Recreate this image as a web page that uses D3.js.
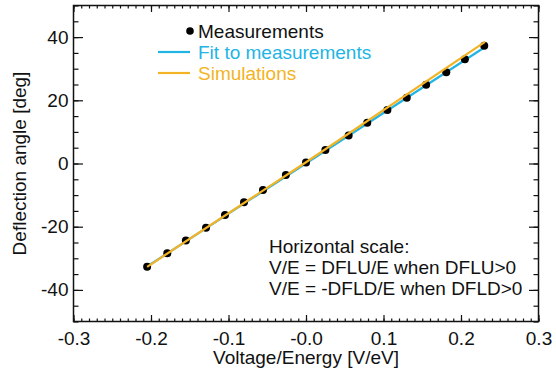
<!DOCTYPE html>
<html>
<head>
<meta charset="utf-8">
<script src="https://cdn.jsdelivr.net/npm/d3@7"></script>
<style>
  body { margin: 0; background: #fff; }
  svg { display: block; }
  text { font-family: "Liberation Sans", Arial, Helvetica, sans-serif; }
</style>
</head>
<body>
<svg width="556" height="375"></svg>
<script>
// measurements (V/E, deflection angle in deg)
let measX = [-0.205, -0.179, -0.155, -0.129, -0.1045, -0.080, -0.0555, -0.026, 0.0,
             0.025, 0.055, 0.079, 0.105, 0.130, 0.155, 0.181, 0.205, 0.230];
let measY = [-32.7, -28.4, -24.4, -20.3, -16.3, -12.3, -8.4, -3.6, 0.3,
             4.3, 8.9, 12.9, 16.9, 20.8, 24.9, 28.9, 33.0, 37.3];

// linear fit to the measurements
let fitX = [-0.205, 0.230];
let fitY = [-32.6, 36.7];

// simulations
let simX = [-0.205, 0.0, 0.231];
let simY = [-32.7, 0.4, 38.5];

let xTicks = [-0.3, -0.2, -0.1, 0.0, 0.1, 0.2, 0.3];
let xTickLabels = ["-0.3", "-0.2", "-0.1", "-0.0", "0.1", "0.2", "0.3"];
let yTicks = [-40, -20, 0, 20, 40];
let yTickLabels = ["-40", "-20", "0", "20", "40"];

let legendItems = ["Measurements", "Fit to measurements", "Simulations"];
let noteLines = ["Horizontal scale:", "V/E = DFLU/E when DFLU>0", "V/E = -DFLD/E when DFLD>0"];

let cyan = "#22b4e4", orange = "#f3b324";

let pLeft = 73.5, pRight = 538.5, pTop = 5.5, pBottom = 321.5;
let svg = d3.select("svg");

let x = d3.scaleLinear().domain([-0.3, 0.3]).range([pLeft, pRight]);
let y = d3.scaleLinear().domain([-50, 50]).range([pBottom, pTop]);

let xMinor = d3.range(-30, 31).map(d => d / 100);
let yMinor = d3.range(-50, 51, 5);

function styleAxis(g) {
  g.select(".domain").remove();
  g.selectAll("line").attr("stroke", "#111").attr("stroke-width", 1.2);
  g.selectAll("text").attr("font-size", 19).attr("fill", "#111");
}

// bottom axis
svg.append("g").attr("transform", "translate(0," + pBottom + ")")
  .call(d3.axisBottom(x).tickValues(xMinor).tickSize(-3).tickFormat(""))
  .call(styleAxis);
svg.append("g").attr("transform", "translate(0," + pBottom + ")")
  .call(d3.axisBottom(x).tickValues(xTicks).tickSize(-6.5).tickPadding(10)
    .tickFormat((d, i) => xTickLabels[i]))
  .call(styleAxis);

// top axis
svg.append("g").attr("transform", "translate(0," + pTop + ")")
  .call(d3.axisTop(x).tickValues(xMinor).tickSize(-3).tickFormat(""))
  .call(styleAxis);
svg.append("g").attr("transform", "translate(0," + pTop + ")")
  .call(d3.axisTop(x).tickValues(xTicks).tickSize(-6.5).tickFormat(""))
  .call(styleAxis);

// left axis
svg.append("g").attr("transform", "translate(" + pLeft + ",0)")
  .call(d3.axisLeft(y).tickValues(yMinor).tickSize(-5).tickFormat(""))
  .call(styleAxis);
svg.append("g").attr("transform", "translate(" + pLeft + ",0)")
  .call(d3.axisLeft(y).tickValues(yTicks).tickSize(-9.5).tickPadding(5)
    .tickFormat((d, i) => yTickLabels[i]))
  .call(styleAxis);

// right axis
svg.append("g").attr("transform", "translate(" + pRight + ",0)")
  .call(d3.axisRight(y).tickValues(yMinor).tickSize(-5).tickFormat(""))
  .call(styleAxis);
svg.append("g").attr("transform", "translate(" + pRight + ",0)")
  .call(d3.axisRight(y).tickValues(yTicks).tickSize(-9.5).tickFormat(""))
  .call(styleAxis);

// frame
svg.append("rect")
  .attr("x", pLeft).attr("y", pTop)
  .attr("width", pRight - pLeft).attr("height", pBottom - pTop)
  .attr("fill", "none").attr("stroke", "#111").attr("stroke-width", 1.5);

// axis titles
svg.append("text")
  .attr("x", (pLeft + pRight) / 2).attr("y", 364)
  .attr("text-anchor", "middle").attr("font-size", 19).attr("fill", "#111")
  .text("Voltage/Energy [V/eV]");
svg.append("text")
  .attr("transform", "translate(26," + ((pTop + pBottom) / 2) + ") rotate(-90)")
  .attr("text-anchor", "middle").attr("font-size", 19).attr("fill", "#111")
  .text("Deflection angle [deg]");

let line = d3.line().x(d => x(d[0])).y(d => y(d[1]));

// fit line
svg.append("path")
  .datum(d3.zip(fitX, fitY))
  .attr("d", line).attr("fill", "none")
  .attr("stroke", cyan).attr("stroke-width", 2.2);

// measurements
svg.append("g").selectAll("circle")
  .data(d3.zip(measX, measY))
  .enter().append("circle")
  .attr("cx", d => x(d[0])).attr("cy", d => y(d[1]))
  .attr("r", 4).attr("fill", "#000");

// simulations
svg.append("path")
  .datum(d3.zip(simX, simY))
  .attr("d", line).attr("fill", "none")
  .attr("stroke", orange).attr("stroke-width", 2.2);

// legend
let legend = svg.append("g");
legend.append("circle").attr("cx", 190).attr("cy", 31).attr("r", 3.8).attr("fill", "#000");
legend.append("line").attr("x1", 158).attr("x2", 190).attr("y1", 52).attr("y2", 52)
  .attr("stroke", cyan).attr("stroke-width", 2.2);
legend.append("line").attr("x1", 158).attr("x2", 190).attr("y1", 73).attr("y2", 73)
  .attr("stroke", orange).attr("stroke-width", 2.2);
let legendColors = ["#111", cyan, orange];
legend.selectAll("text").data(legendItems).enter().append("text")
  .attr("x", 198).attr("y", (d, i) => 38 + i * 21)
  .attr("font-size", 19).attr("fill", (d, i) => legendColors[i])
  .text(d => d);

// note
svg.append("g").selectAll("text").data(noteLines).enter().append("text")
  .attr("x", 269).attr("y", (d, i) => 253 + i * 21)
  .attr("font-size", 19).attr("fill", "#111")
  .text(d => d);
</script>
</body>
</html>
